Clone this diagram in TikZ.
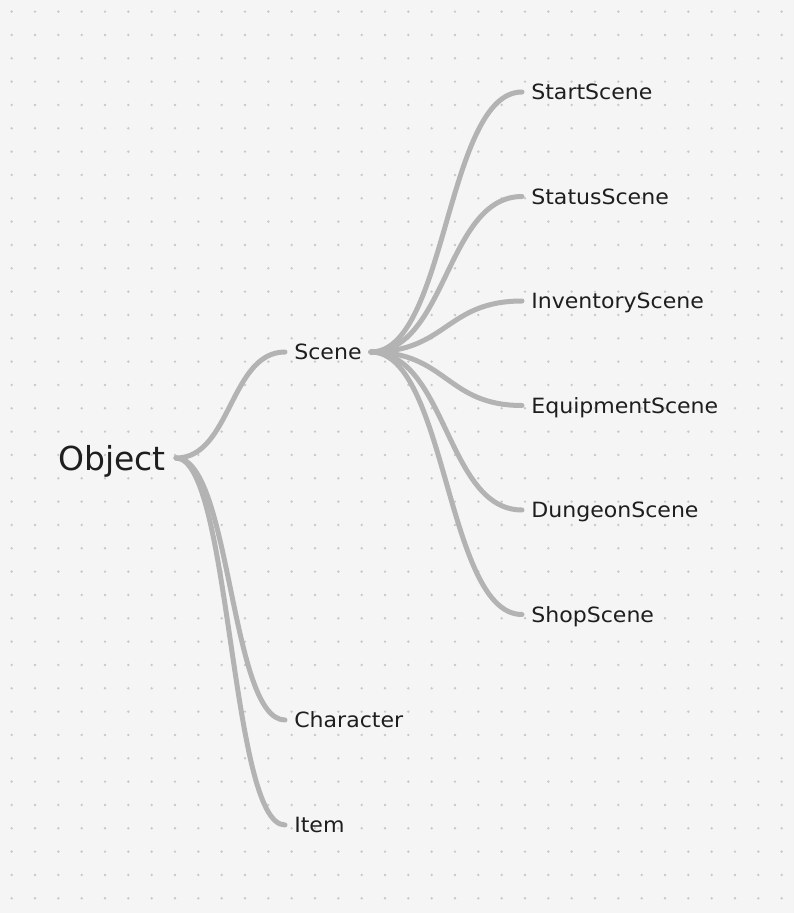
\documentclass[tikz,border=0pt]{standalone}
\usepackage{fontspec}
\setmainfont{DejaVu Sans}
\newfontfamily\lblfont[FakeStretch=1.05]{DejaVu Sans}
\definecolor{bg}{HTML}{F5F5F5}
\definecolor{dotc}{HTML}{C8C8C8}
\definecolor{edgec}{HTML}{B3B3B3}
\definecolor{txt}{HTML}{1E1E1E}
\begin{document}
\begin{tikzpicture}[x=0.75pt,y=-0.75pt,
  lbl/.style={font=\lblfont\fontsize{15.75pt}{18pt}\selectfont, text=txt,
    inner xsep=6.8pt, inner ysep=0pt, text height=11.5pt, text depth=0pt, anchor=west},
  rootlbl/.style={font=\fontsize{24.75pt}{30pt}\selectfont, text=txt,
    inner xsep=7.5pt, inner ysep=0pt, text height=18pt, text depth=0pt, anchor=west},
  edge/.style={draw=edgec, line width=3.75pt, line cap=round}]
\fill[bg] (0,0) rectangle (794,913);
\useasboundingbox (0,0) rectangle (794,913);
\foreach \i in {0,...,33} {
  \foreach \j in {0,...,38} {
    \fill[dotc] (11.667+23.333*\i, 11.667+23.333*\j) circle[radius=1pt];
  }
}
\node[rootlbl] (obj) at (48,458) {Object};
\node[lbl] (scene) at (285,352) {Scene};
\node[lbl] (char) at (285,720) {Character};
\node[lbl] (item) at (285,825) {Item};
\node[lbl] (start) at (522,92) {StartScene};
\node[lbl] (status) at (522,196.5) {StatusScene};
\node[lbl] (inv) at (522,301) {InventoryScene};
\node[lbl] (equip) at (522,405.5) {EquipmentScene};
\node[lbl] (dung) at (522,510) {DungeonScene};
\node[lbl] (shop) at (522,614.5) {ShopScene};
\foreach \c in {scene,char,item} {
  \draw[edge] (obj.east) .. controls +(55,0) and +(-55,0) .. (\c.west);
}
\foreach \c in {start,status,inv,equip,dung,shop} {
  \draw[edge] (scene.east) .. controls +(76,0) and +(-76,0) .. (\c.west);
}
\end{tikzpicture}
\end{document}
